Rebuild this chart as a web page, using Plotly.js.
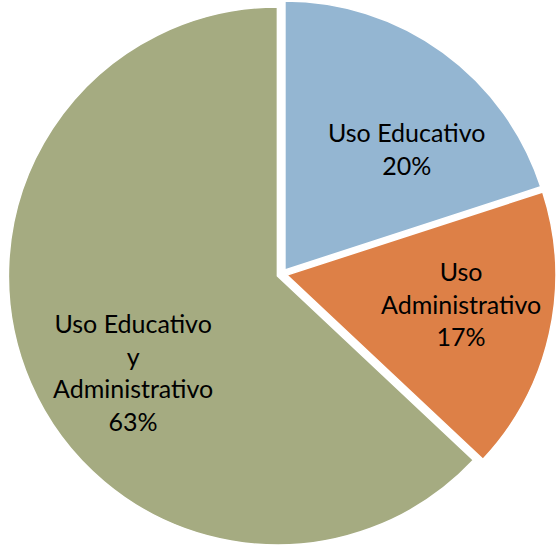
<!DOCTYPE html>
<html>
<head>
<meta charset="utf-8">
<script src="https://cdn.plot.ly/plotly-3.0.1.min.js"></script>
<style>html,body{margin:0;padding:0;background:#fff;}#chart{width:559px;height:548px;}</style>
</head>
<body>
<div id="chart"></div>
<script>
const categories = ["Uso Educativo", "Uso<br>Administrativo", "Uso Educativo<br>y<br>Administrativo"];
const values = [20, 17, 63];
const colors = ["#94B6D2", "#DD8047", "#A5AB81"];

// label placement (paper coordinates) for each slice's text block
const labelX = [0.7247, 0.823, 0.231];
const labelY = [0.729, 0.4462, 0.3203];

const total = values.reduce((a, b) => a + b, 0);

const trace = {
  type: "pie",
  labels: categories,
  values: values,
  sort: false,
  direction: "clockwise",
  rotation: 0,
  pull: [0.0186, 0.0186, 0.0186],
  marker: {colors: colors, line: {color: "#ffffff", width: 1.5}},
  textinfo: "none",
  hoverinfo: "none",
  showlegend: false
};

const annotations = categories.map((c, i) => ({
  xref: "paper", yref: "paper",
  x: labelX[i], y: labelY[i],
  xanchor: "center", yanchor: "middle",
  text: c + "<br>" + Math.round(values[i] / total * 100) + "%",
  showarrow: false,
  align: "center",
  font: {family: "Lato, sans-serif", size: 25, color: "#000000"}
}));

const layout = {
  width: 559,
  height: 548,
  margin: {l: 5, r: 0, t: 0, b: 0},
  paper_bgcolor: "#ffffff",
  showlegend: false,
  annotations: annotations
};

Plotly.newPlot("chart", [trace], layout, {displayModeBar: false, staticPlot: true});
</script>
</body>
</html>
